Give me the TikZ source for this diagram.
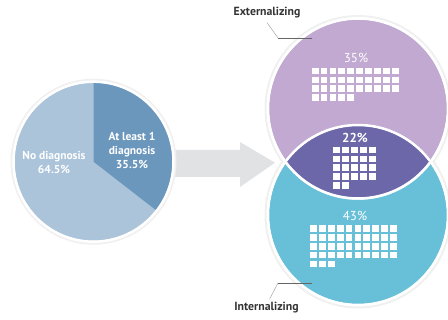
\documentclass[tikz,border=0pt]{standalone}
\usepackage{fontspec}
\setmainfont{PT Sans}
\definecolor{piedark}{HTML}{6B97BD}
\definecolor{pielight}{HTML}{ABC4DA}
\definecolor{extcol}{HTML}{C1A9D1}
\definecolor{intcol}{HTML}{67C0D8}
\definecolor{bothcol}{HTML}{6B67A9}
\definecolor{arrowcol}{HTML}{E1E2E4}
\definecolor{labelcol}{HTML}{333333}
\begin{document}
\begin{tikzpicture}[x=1pt,y=-1pt]
\tikzstyle{every node}+=[inner sep=0pt]
\tikzstyle{pct}=[text=white,font=\fontsize{13}{14}\selectfont]
\tikzstyle{pietext}=[text=white,align=center,font=\fontsize{11.5}{14}\selectfont\bfseries]
\tikzstyle{setname}=[text=labelcol,font=\fontsize{11.8}{14}\selectfont\bfseries]
\tikzstyle{leader}=[draw=black!60,line width=0.5pt]
\tikzstyle{rim}=[draw=white,line width=2.5pt]
\tikzstyle{halo}=[draw=black!6,line width=2pt]
\useasboundingbox (0,0) rectangle (448,320);
% arrow behind the pie
\fill [arrowcol] (160,150) -- (240,150) -- (240,142) -- (275,162.7) -- (240,187) -- (240,177) -- (160,177) -- cycle;
% pie
\coordinate (pie) at (93.5,161.7);
\draw [halo] (pie) circle (82);
\fill [pielight] (pie) circle (79);
\fill [piedark] (pie) -- ++(0,-79) arc [start angle=-90, delta angle=127.8, radius=79] -- cycle;
\draw [rim] (pie) circle (80);
\node [pietext] (nodiag) at (54,162) {No diagnosis\\64.5\%};
\node [pietext] (atleast) at (132,150) {At least 1\\diagnosis\\35.5\%};
% venn
\coordinate (ext) at (358,108.5);
\coordinate (int) at (358,215);
\draw [halo] (ext) circle (92.5);
\draw [halo] (int) circle (92.5);
\fill [intcol] (int) circle (89);
\draw [rim] (int) circle (90);
\fill [extcol] (ext) circle (89);
\draw [rim] (ext) circle (90);
\begin{scope}
\clip (ext) circle (89);
\fill [bothcol] (int) circle (89);
\draw [rim] (int) circle (90);
\end{scope}
\begin{scope}
\clip (int) circle (89);
\draw [rim] (ext) circle (90);
\end{scope}
% percentages
\node [pct] (extpct) at (356,58) {35\%};
\node [pct,font=\fontsize{13}{14}\selectfont\bfseries] (bothpct) at (355,137.5) {22\%};
\node [pct] (intpct) at (355,216) {43\%};
% waffles
\foreach \i in {0,...,34}
  \fill [white] ({311.7+8.9*mod(\i,10)},{67.7+8.9*floor(\i/10)}) rectangle ++(6.8,6.8);
\foreach \i in {0,...,21}
  \fill [white] ({333.3+8.9*mod(\i,5)},{146.7+8.9*floor(\i/5)}) rectangle ++(6.8,6.8);
\foreach \i in {0,...,42}
  \fill [white] ({310+8.9*mod(\i,10)},{225+8.9*floor(\i/10)}) rectangle ++(6.8,6.8);
% set names
\node [setname] (extlabel) at (267,13) {Externalizing};
\node [setname] (intlabel) at (266.5,308) {Internalizing};
\coordinate (extknee) at (278,38);
\coordinate (extend) at (312,38);
\coordinate (intknee) at (278,283);
\coordinate (intend) at (312,283);
\draw [leader,draw=black!35] (extlabel.south) ++(0,4) -- (extknee);
\draw [leader] (extknee) -- (extend);
\draw [leader,draw=black!35] (intlabel.north) ++(3,-3) -- (intknee);
\draw [leader] (intknee) -- (intend);
\end{tikzpicture}
\end{document}
